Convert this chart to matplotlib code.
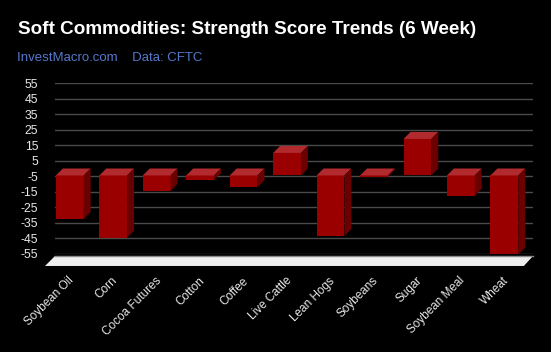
import numpy as np
import matplotlib.pyplot as plt
from matplotlib.patches import Polygon

plt.rcParams['font.family'] = ['Liberation Sans', 'DejaVu Sans']

# strength score per market
markets = ['Soybean Oil', 'Corn', 'Cocoa Futures', 'Cotton', 'Coffee', 'Live Cattle',
           'Lean Hogs', 'Soybeans', 'Sugar', 'Soybean Meal', 'Wheat']
scores = [-28, -40, -10, -3, -7.5, 14.5, -39, -1, 23.5, -13, -51]
yticks = [55, 45, 35, 25, 15, 5, -5, -15, -25, -35, -45, -55]

# colours / 3d look
front_c = '#9a0000'
top_c = '#b02a2e'
side_c = '#6a0000'
w = 0.64      # bar width in x units
dx = 0.16     # depth offset (x units)
dy = 4.5      # depth offset (y units)

fig = plt.figure(figsize=(5.51, 3.52), dpi=100, facecolor='black')
ax = fig.add_axes([55 / 551, 1 - 254 / 352, 478 / 551, 171 / 352])
ax.set_facecolor('black')
ax.set_xlim(-0.5, len(markets) - 0.5)
ax.set_ylim(-55, 55)

for y in yticks:
    ax.axhline(y, color='#4a4a4a', lw=1, zorder=0)

x = np.arange(len(markets))
vals = np.array(scores)
lo = np.minimum(vals, 0)
hi = np.maximum(vals, 0)

# front faces, shifted down-left by the depth
ax.bar(x - dx, vals, width=w, bottom=-dy, color=front_c, zorder=3, lw=0)
for i in x:
    top = [(i - w / 2 - dx, hi[i] - dy), (i + w / 2 - dx, hi[i] - dy),
           (i + w / 2, hi[i]), (i - w / 2, hi[i])]
    side = [(i + w / 2 - dx, lo[i] - dy), (i + w / 2 - dx, hi[i] - dy),
            (i + w / 2, hi[i]), (i + w / 2, lo[i])]
    ax.add_patch(Polygon(top, closed=True, fc=top_c, ec='none', zorder=3))
    ax.add_patch(Polygon(side, closed=True, fc=side_c, ec='none', zorder=3))

# floor slab
x0, x1 = ax.get_xlim()
floor = [(x0, -56.3), (x1, -56.3), (x1 - 0.21, -62.7), (x0 - 0.23, -62.7)]
ax.add_patch(Polygon(floor, closed=True, fc='#eeeeee', ec='none', zorder=4, clip_on=False))
ax.plot([x0, x1], [-56.3, -56.3], color='#8a8a8a', lw=1, zorder=5, clip_on=False)

ax.set_yticks(yticks)
ax.set_yticklabels([str(t) for t in yticks])
ax.set_xticks(x - dx - 0.04)
ax.set_xticklabels(markets, rotation=45, ha='right', rotation_mode='anchor')
ax.tick_params(axis='y', length=0, pad=12, labelsize=8.8, labelcolor='#e8e8e8')
ax.tick_params(axis='x', length=0, pad=15, labelsize=8.5, labelcolor='#e8e8e8')
for s in ax.spines.values():
    s.set_visible(False)

fig.text(18 / 551, 1 - 30 / 352, 'Soft Commodities: Strength Score Trends (6 Week)',
         color='white', fontsize=13.6, fontweight='bold', va='center', ha='left')
fig.text(17 / 551, 1 - 58 / 352, 'InvestMacro.com    Data: CFTC',
         color='#5577cc', fontsize=9.5, va='center', ha='left')

fig.savefig('out.png', dpi=100, facecolor='black')
